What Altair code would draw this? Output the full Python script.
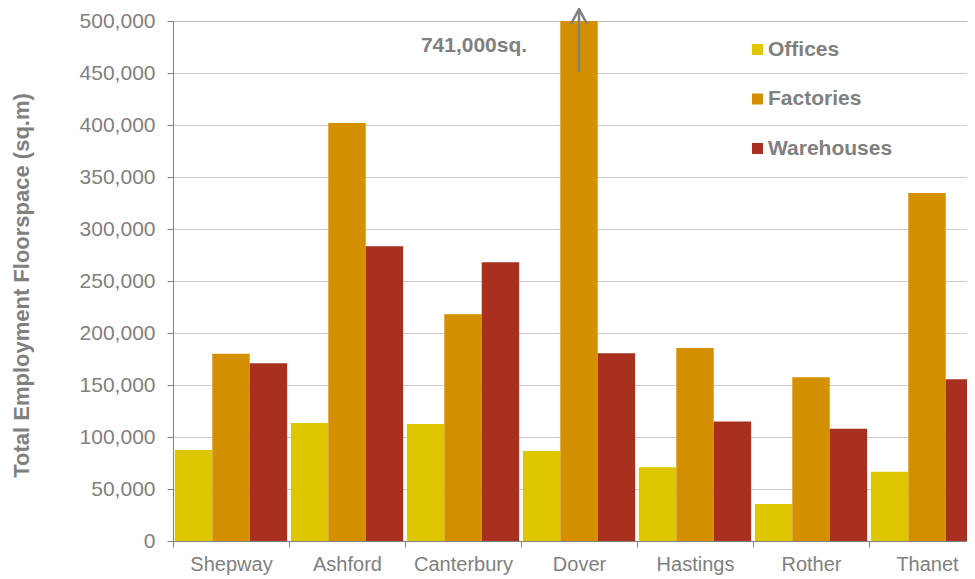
import altair as alt
import pandas as pd

districts = ["Shepway", "Ashford", "Canterbury", "Dover", "Hastings", "Rother", "Thanet"]
offices = [87500, 113500, 112500, 86500, 71000, 35500, 66500]
factories = [180000, 402000, 218000, 741000, 185500, 157500, 334500]
warehouses = [171000, 283500, 268000, 180500, 115000, 108000, 155500]
types = ["Offices", "Factories", "Warehouses"]
colors = ["#DEC600", "#D59000", "#A9301F"]

annot_text = "741,000sq."
annot_district = "Canterbury"
annot_y = 470000
arrow_district = "Dover"
arrow_from = 451000
arrow_to = 511500

rows = []
for i, d in enumerate(districts):
    for t, vals in zip(types, [offices, factories, warehouses]):
        rows.append({"District": d, "Type": t, "Value": vals[i]})
df = pd.DataFrame(rows)

grey = "#808080"
font = "Liberation Sans"

xscale = alt.Scale(domain=districts, range=[0, 812], paddingInner=0, paddingOuter=0)
yscale = alt.Scale(domain=[0, 500000], nice=False)

bars = alt.Chart(df).mark_bar(clip=True).encode(
    x=alt.X("District:N", sort=districts, scale=xscale,
            axis=alt.Axis(title=None, labelAngle=0, tickBand="extent", labelFontSize=20,
                          labelColor=grey, labelFont=font, labelPadding=7, tickSize=6,
                          domainColor=grey, tickColor=grey, grid=False)),
    xOffset=alt.XOffset("Type:N", sort=types, scale=alt.Scale(domain=types, paddingOuter=0.05)),
    y=alt.Y("Value:Q", scale=yscale,
            axis=alt.Axis(title="Total Employment Floorspace (sq.m)", format=",d",
                          values=list(range(0, 500001, 50000)),
                          labelFontSize=21, labelColor=grey, labelFont=font, labelPadding=12,
                          tickSize=6, tickColor=grey, domainColor=grey,
                          gridColor="#999999", gridDash=[1, 1], gridWidth=1,
                          titleFontSize=22, titleFont=font, titleColor=grey, titleFontWeight="bold",
                          titleX=-152, titleY=264, titleAngle=270,
                          titleAlign="center", titleBaseline="middle")),
    color=alt.Color("Type:N", sort=types, scale=alt.Scale(domain=types, range=colors),
                    legend=alt.Legend(title=None, orient="none", legendX=574, legendY=18,
                                      symbolType="square", symbolSize=121, symbolStrokeWidth=0,
                                      labelFontSize=21, labelFontWeight="bold", labelColor=grey,
                                      labelFont=font, labelOffset=0, rowPadding=27.5, padding=0)),
)

arrow_df = pd.DataFrame({"District": [arrow_district], "y1": [arrow_from], "y2": [arrow_to]})
arrow_line = alt.Chart(arrow_df).mark_rule(color=grey, strokeWidth=2.5).encode(
    x=alt.X("District:N", sort=districts, scale=xscale),
    y=alt.Y("y1:Q", scale=yscale),
    y2="y2:Q",
)
arrow_head = alt.Chart(arrow_df).mark_point(
    shape="M -0.8 1.5 L 0 0 L 0.8 1.5", filled=False, color=grey, strokeWidth=2.5, size=400, opacity=1
).encode(
    x=alt.X("District:N", sort=districts, scale=xscale),
    y=alt.Y("y2:Q", scale=yscale),
)

text_df = pd.DataFrame({"District": [annot_district], "y": [annot_y], "label": [annot_text]})
annot = alt.Chart(text_df).mark_text(
    fontSize=21, fontWeight="bold", color=grey, font=font, dx=11, align="center", baseline="alphabetic"
).encode(
    x=alt.X("District:N", sort=districts, scale=xscale),
    y=alt.Y("y:Q", scale=yscale),
    text="label:N",
)

chart = alt.layer(bars, arrow_line, arrow_head, annot).properties(
    width=794, height=520,
    padding={"left": 165, "top": 13, "right": 0, "bottom": 38},
    autosize="none",
).configure_view(stroke=None).configure(background="white")

chart.save("out.html", embed_options={"renderer": "svg", "actions": False})
